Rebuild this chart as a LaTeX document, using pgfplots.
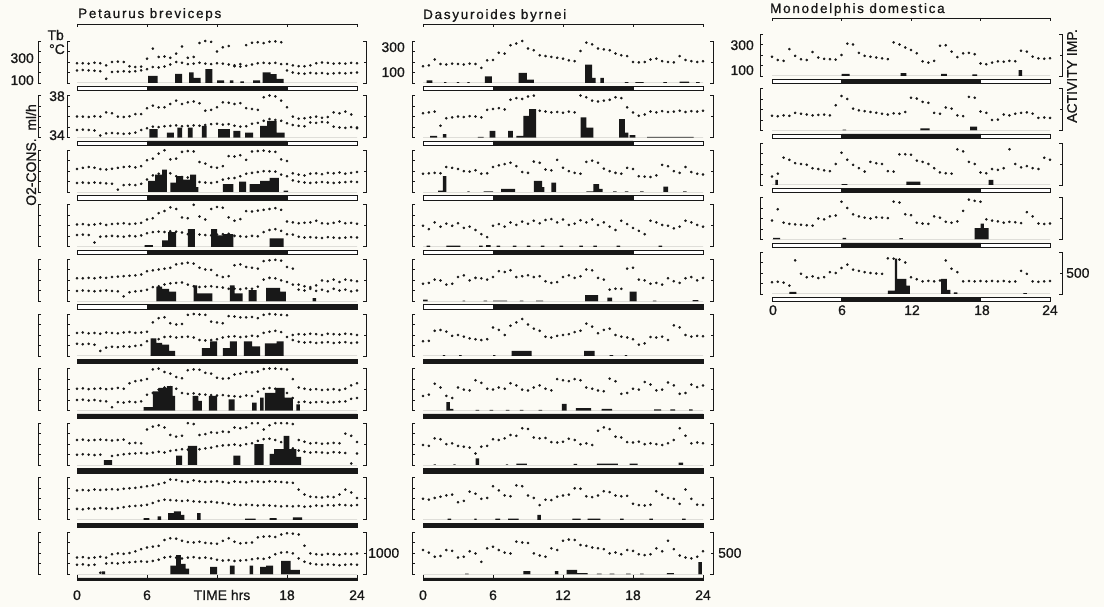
\documentclass[border=0pt]{standalone}
\usepackage{pgfplots}
\pgfplotsset{compat=1.18}
\usepackage{pgfplotstable}
\usepackage{fontspec}
\setmainfont{Liberation Sans}[FakeBold=0.8]
\newfontfamily\titlefont[LetterSpace=13,FakeBold=0.8]{Liberation Sans}
\definecolor{ink}{RGB}{24,24,24}
\definecolor{paper}{RGB}{252,251,245}
\pgfplotsset{
 pnl/.style={scale only axis, width=280bp, height=42bp, xmin=0, xmax=24, ymin=0, ymax=100, axis lines=none, clip=false, anchor=south west},
 dots/.style={only marks, mark=*, mark size=1.1bp, color=ink},
 act/.style={const plot, fill=ink, draw=none},
}
\newcommand\ld[2]{%
 \addplot[draw=ink, fill=white, line width=0.7bp] coordinates {(0,-8)(24,-8)(24,-18.5)(0,-18.5)(0,-8)};
 \addplot[draw=ink, fill=ink, line width=0.7bp] coordinates {(#1,-8)(#2,-8)(#2,-18.5)(#1,-18.5)(#1,-8)};}
\newcommand\thin{\addplot[fill=ink, draw=ink, line width=0.4bp] coordinates {(0,-8)(24,-8)(24,-13)(0,-13)(0,-8)};}
\newcommand\lbr[3]{%
 \draw[ink,line width=0.9bp] (#1+3,#2) -- (#1,#2) -- (#1,#3) -- (#1+3,#3);
 \draw[ink,line width=0.9bp] (#1,{#2+0.25*(#3-#2)}) -- ++(2.5,0) (#1,{#2+0.5*(#3-#2)}) -- ++(2.5,0) (#1,{#2+0.75*(#3-#2)}) -- ++(2.5,0);}
\newcommand\rbr[3]{%
 \draw[ink,line width=0.9bp] (#1-3,#2) -- (#1,#2) -- (#1,#3) -- (#1-3,#3);
 \draw[ink,line width=0.9bp] (#1,{0.5*(#2+#3)}) -- ++(-2.5,0);}
\begin{document}
% ---------- Petaurus breviceps (t, upper series a, lower series b; % of panel height)
\pgfplotstableread[row sep=\\]{t a b\\
0 47 30\\0.5 47 31\\1 46 30\\1.5 48 29\\2 47 28\\2.5 42 10\\3 50 26\\3.5 51 27\\4 50 28\\4.5 40 27\\5 38 28\\5.5 39 30\\
6 58 33\\6.5 82 38\\7 62 37\\7.5 63 39\\8 60 44\\8.5 70 50\\9 87 48\\9.5 60 45\\10 62 46\\10.5 95 48\\11 100 46\\11.5 98 45\\
12 75 47\\12.5 85 46\\13 88 44\\13.5 42 40\\14 45 39\\14.5 90 41\\15 96 44\\15.5 97 47\\16 95 48\\16.5 98 47\\17 99 48\\17.5 97 45\\
18 45 30\\18.5 42 25\\19 40 23\\19.5 40 22\\20 42 24\\20.5 47 23\\21 49 24\\21.5 48 22\\22 46 23\\22.5 47 24\\23 46 23\\23.5 48 24\\24 47 25\\}\cAa
\pgfplotstableread[row sep=\\]{t a b\\
0 50 18\\0.5 50 19\\1 49 18\\1.5 51 17\\2 50 5\\2.5 60 10\\3 58 11\\3.5 50 10\\4 49 9\\4.5 51 10\\5 56 12\\5.5 56 18\\
6 70 22\\6.5 76 26\\7 72 25\\7.5 72 27\\8 80 28\\8.5 88 29\\9 80 27\\9.5 84 28\\10 86 29\\10.5 82 28\\11 64 30\\11.5 66 32\\
12 72 33\\12.5 84 31\\13 83 32\\13.5 80 28\\14 82 26\\14.5 70 27\\15 68 33\\15.5 66 35\\16 96 40\\16.5 100 44\\17 98 42\\17.5 88 40\\
18 72 34\\18.5 50 30\\19 45 28\\19.5 46 27\\20 48 36\\20.5 50 35\\21 47 37\\21.5 49 36\\22 60 26\\22.5 58 24\\23 62 23\\23.5 55 25\\24 24 22\\}\cAb
\pgfplotstableread[row sep=\\]{t a b\\
0 55 22\\0.5 58 23\\1 60 22\\1.5 58 23\\2 55 22\\2.5 54 21\\3 56 20\\3.5 58 6\\4 60 17\\4.5 61 18\\5 59 17\\5.5 62 20\\
6 76 30\\6.5 80 40\\7 92 44\\7.5 100 46\\8 78 45\\8.5 80 38\\9 96 36\\9.5 98 35\\10 97 32\\10.5 72 24\\11 68 23\\11.5 60 22\\
12 58 24\\12.5 62 30\\13 86 33\\13.5 85 34\\14 88 38\\14.5 77 44\\15 97 46\\15.5 98 48\\16 99 50\\16.5 97 50\\17 96 49\\17.5 78 42\\
18 74 38\\18.5 45 28\\19 42 25\\19.5 40 23\\20 44 22\\20.5 45 23\\21 43 24\\21.5 46 23\\22 45 22\\22.5 47 23\\23 44 24\\23.5 46 25\\24 48 24\\}\cAc
\pgfplotstableread[row sep=\\]{t a b\\
0 53 28\\0.5 54 29\\1 52 28\\1.5 53 10\\2 55 24\\2.5 52 25\\3 54 26\\3.5 55 25\\4 56 24\\4.5 54 26\\5 55 25\\5.5 57 27\\
6 65 32\\6.5 68 35\\7 80 36\\7.5 85 35\\8 94 37\\8.5 90 36\\9 70 34\\9.5 68 30\\10 100 31\\10.5 72 29\\11 65 28\\11.5 90 27\\
12 95 29\\12.5 93 30\\13 70 31\\13.5 62 26\\14 66 25\\14.5 85 24\\15 84 26\\15.5 86 25\\16 88 35\\16.5 90 40\\17 92 42\\17.5 88 38\\
18 60 30\\18.5 58 29\\19 56 24\\19.5 57 22\\20 58 23\\20.5 62 22\\21 56 21\\21.5 55 23\\22 57 22\\22.5 60 21\\23 56 22\\23.5 57 23\\24 55 22\\}\cAd
\pgfplotstableread[row sep=\\]{t a b\\
0 55 25\\0.5 55 26\\1 56 25\\1.5 55 24\\2 57 25\\2.5 56 26\\3 58 25\\3.5 59 24\\4 60 12\\4.5 61 22\\5 62 24\\5.5 64 25\\
6 72 28\\6.5 74 34\\7 76 36\\7.5 78 40\\8 80 43\\8.5 88 44\\9 90 45\\9.5 92 40\\10 90 36\\10.5 80 34\\11 76 35\\11.5 75 36\\
12 62 34\\12.5 58 33\\13 60 30\\13.5 86 30\\14 88 29\\14.5 82 31\\15 80 30\\15.5 78 35\\16 96 52\\16.5 98 56\\17 99 55\\17.5 97 50\\
18 82 46\\18.5 78 40\\19 40 28\\19.5 36 26\\20 34 30\\20.5 38 25\\21 50 28\\21.5 48 24\\22 52 30\\22.5 46 26\\23 52 28\\23.5 50 24\\24 48 26\\}\cAe
\pgfplotstableread[row sep=\\]{t a b\\
0 55 29\\0.5 56 28\\1 54 29\\1.5 55 27\\2 53 12\\2.5 56 20\\3 55 22\\3.5 54 21\\4 56 23\\4.5 57 22\\5 55 24\\5.5 56 26\\
6 58 35\\6.5 80 38\\7 90 40\\7.5 92 45\\8 78 46\\8.5 75 44\\9 76 45\\9.5 98 46\\10 100 44\\10.5 99 38\\11 98 37\\11.5 82 38\\
12 80 40\\12.5 78 44\\13 95 46\\13.5 94 47\\14 92 45\\14.5 92 46\\15 93 48\\15.5 90 47\\16 98 55\\16.5 100 58\\17 99 60\\17.5 98 57\\
18 97 45\\18.5 50 38\\19 52 34\\19.5 51 32\\20 53 33\\20.5 52 31\\21 50 32\\21.5 53 33\\22 52 31\\22.5 51 32\\23 53 33\\23.5 52 31\\24 50 32\\}\cAf
\pgfplotstableread[row sep=\\]{t a b\\
0 52 25\\0.5 53 26\\1 51 24\\1.5 52 25\\2 53 23\\2.5 51 22\\3 52 8\\3.5 54 20\\4 52 19\\4.5 65 21\\5 70 20\\5.5 72 22\\
6 75 38\\6.5 98 42\\7 100 50\\7.5 92 55\\8 88 56\\8.5 80 52\\9 77 42\\9.5 96 40\\10 98 41\\10.5 97 39\\11 90 38\\11.5 88 37\\
12 78 36\\12.5 76 37\\13 77 35\\13.5 86 34\\14 88 33\\14.5 92 36\\15 91 35\\15.5 93 45\\16 99 52\\16.5 100 54\\17 100 52\\17.5 99 44\\
18 98 42\\18.5 75 30\\19 55 20\\19.5 52 21\\20 50 19\\20.5 51 20\\21 49 21\\21.5 50 19\\22 51 20\\22.5 49 21\\23 52 22\\23.5 60 28\\24 65 30\\}\cAg
\pgfplotstableread[row sep=\\]{t a b\\
0 60 25\\0.5 61 26\\1 59 25\\1.5 60 24\\2 61 25\\2.5 60 4\\3 59 22\\3.5 60 24\\4 61 26\\4.5 52 27\\5 53 28\\5.5 52 29\\
6 85 28\\6.5 92 30\\7 95 32\\7.5 90 30\\8 72 34\\8.5 68 36\\9 70 38\\9.5 100 37\\10 98 39\\10.5 72 38\\11 74 40\\11.5 78 42\\
12 77 45\\12.5 80 47\\13 79 48\\13.5 90 49\\14 88 47\\14.5 90 50\\15 100 52\\15.5 100 58\\16 85 62\\16.5 95 63\\17 100 60\\17.5 100 55\\
18 100 54\\18.5 98 40\\19 60 35\\19.5 56 32\\20 52 30\\20.5 53 31\\21 51 30\\21.5 52 29\\22 53 31\\22.5 52 30\\23 75 29\\23.5 70 4\\24 55 28\\}\cAh
\pgfplotstableread[row sep=\\]{t a b\\
0 70 26\\0.5 71 25\\1 70 27\\1.5 72 26\\2 71 28\\2.5 72 27\\3 73 26\\3.5 72 28\\4 74 30\\4.5 75 32\\5 76 33\\5.5 78 34\\
6 80 36\\6.5 82 40\\7 85 45\\7.5 88 48\\8 96 47\\8.5 95 46\\9 92 45\\9.5 90 46\\10 94 44\\10.5 92 43\\11 90 42\\11.5 91 43\\
12 92 41\\12.5 90 40\\13 88 38\\13.5 91 36\\14 90 35\\14.5 89 36\\15 92 35\\15.5 91 34\\16 90 35\\16.5 92 34\\17 91 33\\17.5 90 32\\
18 89 33\\18.5 88 32\\19 72 33\\19.5 60 31\\20 55 32\\20.5 54 34\\21 53 33\\21.5 55 35\\22 54 34\\22.5 60 36\\23 72 35\\23.5 65 34\\24 52 35\\}\cAi
\pgfplotstableread[row sep=\\]{t a b\\
0 40 23\\0.5 41 24\\1 39 22\\1.5 40 23\\2 42 4\\2.5 40 26\\3 48 27\\3.5 50 26\\4 49 28\\4.5 51 29\\5 55 30\\5.5 60 31\\
6 64 30\\6.5 66 32\\7 68 35\\7.5 82 40\\8 86 42\\8.5 85 40\\9 80 38\\9.5 77 40\\10 76 41\\10.5 78 39\\11 75 40\\11.5 74 38\\
12 73 35\\12.5 80 33\\13 86 34\\13.5 78 32\\14 74 33\\14.5 75 34\\15 76 36\\15.5 88 38\\16 90 37\\16.5 91 40\\17 89 48\\17.5 95 52\\
18 98 53\\18.5 97 50\\19 95 38\\19.5 68 30\\20 50 26\\20.5 48 24\\21 47 23\\21.5 49 24\\22 48 23\\22.5 47 22\\23 49 23\\23.5 48 24\\24 50 23\\}\cAj
% ---------- Dasyuroides byrnei
\pgfplotstableread[row sep=\\]{t a\\
0 40\\0.5 42\\1 56\\1.5 45\\2 44\\2.5 46\\3 45\\3.5 44\\4 46\\4.5 45\\5 36\\5.5 54\\6 55\\6.5 72\\7 70\\7.5 90\\8 94\\8.5 100\\9 82\\9.5 78\\10 66\\10.5 64\\11 62\\11.5 60\\
12 58\\12.5 54\\13 52\\13.5 76\\14 96\\14.5 92\\15 82\\15.5 80\\16 78\\16.5 70\\17 66\\17.5 64\\18 50\\18.5 49\\19 50\\19.5 56\\20 58\\20.5 52\\21 50\\21.5 49\\22 64\\22.5 55\\23 52\\23.5 50\\24 52\\}\cBa
\pgfplotstableread[row sep=\\]{t a\\
0 58\\0.5 60\\1 62\\1.5 28\\2 46\\2.5 48\\3 50\\3.5 49\\4 51\\4.5 50\\5 48\\5.5 66\\6 68\\6.5 70\\7 67\\7.5 90\\8 94\\8.5 92\\9 98\\9.5 100\\10 64\\10.5 62\\11 60\\11.5 61\\
12 59\\12.5 62\\13 60\\13.5 100\\14 96\\14.5 88\\15 86\\15.5 88\\16 90\\16.5 96\\17 94\\17.5 72\\18 60\\18.5 52\\19 55\\19.5 62\\20 60\\20.5 63\\21 61\\21.5 62\\22 64\\22.5 61\\23 63\\23.5 62\\24 64\\}\cBb
\pgfplotstableread[row sep=\\]{t a\\
0 44\\0.5 45\\1 46\\1.5 45\\2 60\\2.5 58\\3 55\\3.5 50\\4 49\\4.5 52\\5 44\\5.5 45\\6 60\\6.5 64\\7 67\\7.5 70\\8 62\\8.5 48\\9 46\\9.5 73\\10 70\\10.5 54\\11 52\\11.5 77\\
12 58\\12.5 50\\13 46\\13.5 44\\14 72\\14.5 75\\15 70\\15.5 56\\16 50\\16.5 46\\17 44\\17.5 58\\18 55\\18.5 38\\19 37\\19.5 36\\20 40\\20.5 65\\21 62\\21.5 50\\22 46\\22.5 60\\23 48\\23.5 44\\24 42\\}\cBc
\pgfplotstableread[row sep=\\]{t a\\
0 50\\0.5 42\\1 58\\1.5 48\\2 55\\2.5 50\\3 56\\3.5 45\\4 48\\4.5 40\\5 30\\5.5 23\\6 50\\6.5 54\\7 48\\7.5 58\\8 52\\8.5 60\\9 55\\9.5 62\\10 56\\10.5 64\\11 66\\11.5 58\\
12 65\\12.5 52\\13 55\\13.5 63\\14 58\\14.5 65\\15 52\\15.5 58\\16 48\\16.5 40\\17 62\\17.5 54\\18 45\\18.5 38\\19 30\\19.5 62\\20 58\\20.5 52\\21 50\\21.5 44\\22 48\\22.5 62\\23 58\\23.5 52\\24 48\\}\cBd
\pgfplotstableread[row sep=\\]{t a\\
0 42\\0.5 44\\1 52\\1.5 50\\2 40\\2.5 42\\3 58\\3.5 62\\4 50\\4.5 56\\5 55\\5.5 52\\6 58\\6.5 72\\7 70\\7.5 74\\8 58\\8.5 60\\9 62\\9.5 58\\10 60\\10.5 48\\11 44\\11.5 46\\
12 58\\12.5 62\\13 56\\13.5 60\\14 76\\14.5 74\\15 56\\15.5 52\\16 28\\16.5 30\\17 30\\17.5 78\\18 80\\18.5 52\\19 50\\19.5 42\\20 44\\20.5 40\\21 55\\21.5 48\\22 44\\22.5 55\\23 58\\23.5 50\\24 56\\}\cBe
\pgfplotstableread[row sep=\\]{t a\\
0 35\\0.5 36\\1 60\\1.5 62\\2 58\\2.5 48\\3 50\\3.5 46\\4 42\\4.5 40\\5 38\\5.5 40\\6 68\\6.5 62\\7 50\\7.5 72\\8 80\\8.5 88\\9 75\\9.5 65\\10 60\\10.5 46\\11 44\\11.5 48\\
12 50\\12.5 52\\13 57\\13.5 60\\14 77\\14.5 70\\15 54\\15.5 62\\16 65\\16.5 50\\17 46\\17.5 44\\18 40\\18.5 27\\19 30\\19.5 45\\20 44\\20.5 46\\21 38\\21.5 73\\22 68\\22.5 50\\23 46\\23.5 48\\24 47\\}\cBf
\pgfplotstableread[row sep=\\]{t a\\
0 35\\0.5 38\\1 64\\1.5 55\\2 35\\2.5 30\\3 55\\3.5 50\\4 48\\4.5 72\\5 66\\5.5 52\\6 50\\6.5 55\\7 52\\7.5 65\\8 60\\8.5 50\\9 48\\9.5 55\\10 60\\10.5 52\\11 48\\11.5 75\\
12 72\\12.5 70\\13 75\\13.5 72\\14 55\\14.5 52\\15 48\\15.5 46\\16 76\\16.5 70\\17 40\\17.5 42\\18 52\\18.5 50\\19 68\\19.5 62\\20 48\\20.5 50\\21 67\\21.5 60\\22 40\\22.5 42\\23 62\\23.5 56\\24 60\\}\cBg
\pgfplotstableread[row sep=\\]{t a\\
0 48\\0.5 46\\1 64\\1.5 62\\2 50\\2.5 52\\3 46\\3.5 44\\4 42\\4.5 28\\5 44\\5.5 46\\6 62\\6.5 60\\7 64\\7.5 72\\8 70\\8.5 88\\9 86\\9.5 66\\10 64\\10.5 65\\11 55\\11.5 54\\
12 56\\12.5 63\\13 60\\13.5 50\\14 52\\14.5 48\\15 82\\15.5 90\\16 86\\16.5 68\\17 66\\17.5 55\\18 54\\18.5 56\\19 50\\19.5 52\\20 50\\20.5 48\\21 52\\21.5 60\\22 88\\22.5 70\\23 52\\23.5 54\\24 52\\}\cBh
\pgfplotstableread[row sep=\\]{t a\\
0 50\\0.5 48\\1 52\\1.5 55\\2 58\\2.5 60\\3 42\\3.5 45\\4 67\\4.5 62\\5 50\\5.5 52\\6 80\\6.5 70\\7 58\\7.5 56\\8 82\\8.5 80\\9 58\\9.5 52\\10 35\\10.5 48\\11 47\\11.5 55\\
12 58\\12.5 60\\13 75\\13.5 74\\14 56\\14.5 54\\15 58\\15.5 68\\16 66\\16.5 58\\17 56\\17.5 57\\18 38\\18.5 35\\19 34\\19.5 36\\20 68\\20.5 60\\21 52\\21.5 50\\22 38\\22.5 72\\23 50\\23.5 36\\24 35\\}\cBi
\pgfplotstableread[row sep=\\]{t a\\
0 58\\0.5 52\\1 42\\1.5 44\\2 58\\2.5 56\\3 40\\3.5 42\\4 55\\4.5 50\\5 30\\5.5 62\\6 66\\6.5 58\\7 52\\7.5 50\\8 78\\8.5 76\\9 75\\9.5 50\\10 45\\10.5 42\\11 62\\11.5 58\\
12 80\\12.5 83\\13 82\\13.5 70\\14 68\\14.5 64\\15 62\\15.5 60\\16 50\\16.5 52\\17 48\\17.5 58\\18 56\\18.5 48\\19 46\\19.5 48\\20 62\\20.5 55\\21 80\\21.5 60\\22 45\\22.5 40\\23 38\\23.5 42\\24 55\\}\cBj
% ---------- Monodelphis domestica
\pgfplotstableread[row sep=\\]{t a\\
0 46\\0.5 38\\1 36\\1.5 64\\2 48\\2.5 40\\3 38\\3.5 57\\4 44\\4.5 41\\5 40\\5.5 39\\6 50\\6.5 77\\7 75\\7.5 55\\8 48\\8.5 46\\9 44\\9.5 42\\10 40\\10.5 80\\11 75\\11.5 68\\
12 62\\12.5 54\\13 35\\13.5 32\\14 36\\14.5 72\\15 73\\15.5 58\\16 45\\16.5 54\\17 55\\17.5 52\\18 30\\18.5 28\\19 32\\19.5 35\\20 34\\20.5 36\\21 35\\21.5 60\\22 58\\22.5 46\\23 42\\23.5 41\\24 42\\}\cCa
\pgfplotstableread[row sep=\\]{t a\\
0 35\\0.5 34\\1 36\\1.5 35\\2 42\\2.5 40\\3 38\\3.5 36\\4 37\\4.5 38\\5 36\\5.5 60\\6 82\\6.5 75\\7 52\\7.5 48\\8 46\\8.5 44\\9 42\\9.5 40\\10 38\\10.5 41\\11 40\\11.5 44\\
12 78\\12.5 76\\13 68\\13.5 66\\14 42\\14.5 40\\15 55\\15.5 52\\16 36\\16.5 34\\17 80\\17.5 78\\18 45\\18.5 42\\19 25\\19.5 26\\20 38\\20.5 36\\21 40\\21.5 42\\22 43\\22.5 40\\23 30\\23.5 31\\24 30\\}\cCb
\pgfplotstableread[row sep=\\]{t a\\
0 20\\0.5 27\\1 65\\1.5 60\\2 52\\2.5 50\\3 48\\3.5 40\\4 38\\4.5 35\\5 33\\5.5 50\\6 77\\6.5 60\\7 48\\7.5 40\\8 32\\8.5 55\\9 52\\9.5 50\\10 33\\10.5 32\\11 73\\11.5 73\\
12 72\\12.5 58\\13 55\\13.5 50\\14 40\\14.5 30\\15 28\\15.5 27\\16 85\\16.5 80\\17 55\\17.5 50\\18 30\\18.5 28\\19 38\\19.5 36\\20 40\\20.5 85\\21 50\\21.5 42\\22 45\\22.5 40\\23 38\\23.5 65\\24 60\\}\cCc
\pgfplotstableread[row sep=\\]{t a\\
0 45\\0.5 72\\1 40\\1.5 37\\2 36\\2.5 35\\3 34\\3.5 33\\4 50\\4.5 48\\5 55\\5.5 57\\6 90\\6.5 75\\7 60\\7.5 55\\8 52\\8.5 50\\9 53\\9.5 52\\10 51\\10.5 90\\11 88\\11.5 60\\
12 58\\12.5 40\\13 38\\13.5 37\\14 55\\14.5 52\\15 42\\15.5 40\\16 43\\16.5 68\\17 95\\17.5 92\\18 90\\18.5 48\\19 45\\19.5 43\\20 40\\20.5 42\\21 41\\21.5 39\\22 65\\22.5 55\\23 38\\23.5 37\\24 38\\}\cCd
\pgfplotstableread[row sep=\\]{t a\\
0 28\\0.5 29\\1 27\\1.5 20\\2 80\\2.5 48\\3 40\\3.5 42\\4 38\\4.5 40\\5 52\\5.5 50\\6 62\\6.5 70\\7 58\\7.5 55\\8 52\\8.5 50\\9 49\\9.5 48\\10 85\\10.5 84\\11 82\\11.5 75\\
12 40\\12.5 35\\13 30\\13.5 31\\14 30\\14.5 32\\15 80\\15.5 60\\16 52\\16.5 30\\17 31\\17.5 30\\18 31\\18.5 30\\19 31\\19.5 30\\20 31\\20.5 29\\21 30\\21.5 55\\22 48\\22.5 30\\23 29\\23.5 30\\24 31\\}\cCe
\begin{tikzpicture}
\useasboundingbox (0,0) rectangle (1104bp,607bp);
\fill[paper] (0,0) rectangle (1104bp,607bp);
% ===== Column 1
\begin{axis}[pnl, at={(77bp,524bp)}]
\addplot[dots] table[x=t,y=a]{\cAa}; \addplot[dots] table[x=t,y=b]{\cAa};
\addplot[act] coordinates {(0,0)(6.1,17)(6.9,0)(8.4,22)(9,0)(9.6,25)(10,12)(10.6,0)(11,33)(11.6,0)(12,6)(12.6,0)(13.1,6)(13.4,0)(14,4)(14.3,0)(15.1,6)(15.7,0)(15.9,25)(16.6,21)(17.1,10)(17.7,0)(24,0)} \closedcycle;
\ld{6}{18}
\end{axis}
\begin{axis}[pnl, at={(77bp,469.4bp)}]
\addplot[dots] table[x=t,y=a]{\cAb}; \addplot[dots] table[x=t,y=b]{\cAb};
\addplot[act] coordinates {(0,0)(6.2,20)(6.9,0)(7.7,12)(8.3,0)(8.6,24)(9,0)(9.5,24)(9.9,0)(10.7,28)(11.1,0)(12.1,20)(13.1,0)(13.4,16)(14,0)(14.4,12)(15.1,0)(15.7,28)(16.3,40)(17.1,12)(17.8,0)(24,0)} \closedcycle;
\ld{6}{18}
\end{axis}
\begin{axis}[pnl, at={(77bp,414.8bp)}]
\addplot[dots] table[x=t,y=a]{\cAc}; \addplot[dots] table[x=t,y=b]{\cAc};
\addplot[act] coordinates {(0,0)(6.1,27)(6.7,42)(7.3,54)(7.7,0)(8,23)(8.5,38)(9.1,30)(9.7,42)(10.2,12)(10.4,0)(12.5,19)(13.4,0)(13.9,25)(14.5,0)(14.8,19)(15.7,27)(16.5,34)(17.3,0)(17.7,4)(18.1,0)(24,0)} \closedcycle;
\ld{6}{18}
\end{axis}
\begin{axis}[pnl, at={(77bp,360.2bp)}]
\addplot[dots] table[x=t,y=a]{\cAd}; \addplot[dots] table[x=t,y=b]{\cAd};
\addplot[act] coordinates {(0,0)(5.8,4)(6.5,0)(7.3,15)(7.8,35)(8.5,0)(9.5,42)(10.1,0)(11.5,42)(12,27)(12.5,30)(13.4,0)(16.5,20)(17.7,0)(24,0)} \closedcycle;
\ld{6}{18}
\end{axis}
\begin{axis}[pnl, at={(77bp,305.6bp)}]
\addplot[dots] table[x=t,y=a]{\cAe}; \addplot[dots] table[x=t,y=b]{\cAe};
\addplot[act] coordinates {(0,0)(6.8,35)(7.3,30)(7.9,23)(8.5,0)(10,38)(10.3,19)(11.6,0)(13.1,38)(13.5,19)(14.2,0)(14.7,27)(15.4,0)(16.2,32)(17.4,23)(17.9,0)(20.2,8)(20.5,0)(24,0)} \closedcycle;
\ld{6}{24}
\end{axis}
\begin{axis}[pnl, at={(77bp,251bp)}]
\addplot[dots] table[x=t,y=a]{\cAf}; \addplot[dots] table[x=t,y=b]{\cAf};
\addplot[act] coordinates {(0,0)(6.3,42)(6.8,31)(7.3,27)(7.9,12)(8.4,0)(10.7,19)(11.4,35)(12,0)(12.5,19)(13.1,35)(13.7,0)(14.3,35)(15,23)(15.7,0)(16.1,30)(17.1,35)(17.7,0)(24,0)} \closedcycle;
\ld{0}{24}
\end{axis}
\begin{axis}[pnl, at={(77bp,196.4bp)}]
\addplot[dots] table[x=t,y=a]{\cAg}; \addplot[dots] table[x=t,y=b]{\cAg};
\addplot[act] coordinates {(0,0)(5.7,8)(6.5,46)(7,54)(7.7,58)(8.2,35)(8.4,0)(9.9,35)(10.4,23)(10.7,0)(11.3,35)(12,0)(13,27)(13.5,0)(15,19)(15.4,0)(15.7,31)(16,0)(16.1,42)(17,54)(17.8,31)(18.5,0)(18.8,15)(19.1,0)(24,0)} \closedcycle;
\ld{0}{24}
\end{axis}
\begin{axis}[pnl, at={(77bp,141.8bp)}]
\addplot[dots] table[x=t,y=a]{\cAh}; \addplot[dots] table[x=t,y=b]{\cAh};
\addplot[act] coordinates {(0,0)(2.3,12)(3,0)(8.5,23)(9,0)(9.5,46)(10.3,0)(13.4,23)(14,0)(15.2,50)(16,0)(16.5,27)(16.9,38)(17.7,70)(18.2,38)(18.8,20)(19.2,0)(24,0)} \closedcycle;
\ld{0}{24}
\end{axis}
\begin{axis}[pnl, at={(77bp,87.2bp)}]
\addplot[dots] table[x=t,y=a]{\cAi}; \addplot[dots] table[x=t,y=b]{\cAi};
\addplot[act] coordinates {(0,0)(5.7,4)(6.2,0)(6.9,8)(7.2,0)(7.8,16)(8.3,20)(8.9,12)(9.2,0)(10.3,16)(10.6,0)(14.4,3)(15.3,0)(16.5,4)(17.1,0)(18.5,6)(19.3,0)(24,0)} \closedcycle;
\ld{0}{24}
\end{axis}
\begin{axis}[pnl, at={(77bp,32.6bp)}]
\addplot[dots] table[x=t,y=a]{\cAj}; \addplot[dots] table[x=t,y=b]{\cAj};
\addplot[act] coordinates {(0,0)(2.1,7)(2.4,0)(8,21)(8.5,46)(8.9,25)(9.3,14)(9.6,0)(11.4,18)(12,0)(13.1,21)(13.5,0)(14.8,21)(15.1,0)(15.7,18)(16.2,21)(16.8,0)(17.5,32)(18.3,11)(19.1,0)(24,0)} \closedcycle;
\thin
\end{axis}
% ===== Column 2
\begin{axis}[pnl, at={(423bp,524bp)}]
\addplot[dots] table[x=t,y=a]{\cBa};
\addplot[act] coordinates {(0,0)(0.3,6)(0.8,0)(1.8,2)(2,0)(2.9,2)(3.1,0)(3.8,2)(4,0)(5.3,16)(5.9,0)(8.2,24)(8.9,8)(9.5,0)(13.9,44)(14.5,12)(14.8,0)(15.2,12)(15.5,0)(17.3,2)(17.6,0)(18.2,2)(18.9,0)(20.6,2)(20.9,0)(22,3)(22.8,0)(23.4,2)(23.7,0)(24,0)} \closedcycle;
\ld{6}{18}
\end{axis}
\begin{axis}[pnl, at={(423bp,469.4bp)}]
\addplot[dots] table[x=t,y=a]{\cBb};
\addplot[act] coordinates {(0,0)(0.6,4)(1.2,0)(1.7,8)(2,0)(4.7,2)(5.2,0)(5.7,16)(6.2,0)(7.3,16)(7.7,0)(8,4)(8.6,52)(9.1,68)(9.7,0)(13.5,48)(14,24)(14.6,0)(16.8,44)(17.3,12)(17.6,0)(17.7,6)(18.2,0)(19.2,2)(23.2,0)(24,0)} \closedcycle;
\ld{6}{18}
\end{axis}
\begin{axis}[pnl, at={(423bp,414.8bp)}]
\addplot[dots] table[x=t,y=a]{\cBc};
\addplot[act] coordinates {(0,0)(1.3,4)(1.7,38)(2,0)(3.8,2)(4,0)(5.2,2)(6,0)(6.7,8)(7.9,0)(9.5,27)(10.2,12)(10.4,0)(11,23)(11.4,0)(14,2)(14.6,19)(15.1,8)(15.4,0)(16.3,2)(16.6,0)(17.3,2)(17.6,0)(18.6,2)(18.9,0)(20.6,13)(21,0)(22.3,2)(22.6,0)(24,0)} \closedcycle;
\ld{6}{18}
\end{axis}
\begin{axis}[pnl, at={(423bp,360.2bp)}]
\addplot[dots] table[x=t,y=a]{\cBd};
\addplot[act] coordinates {(0,0)(0.3,3)(0.6,0)(2,3)(3.2,0)(4.8,3)(5.1,0)(5.4,4)(5.8,0)(6.3,3)(6.6,0)(7.7,3)(8,0)(8.9,3)(9.2,0)(10.1,3)(10.4,0)(11.7,3)(12,0)(13.4,3)(13.7,0)(14.6,3)(14.9,0)(16.6,3)(16.9,0)(20.2,3)(20.5,0)(24,0)} \closedcycle;
\ld{6}{18}
\end{axis}
\begin{axis}[pnl, at={(423bp,305.6bp)}]
\addplot[dots] table[x=t,y=a]{\cBe};
\addplot[act] coordinates {(0,4)(0.4,0)(3.4,2)(3.6,0)(5.2,2)(5.5,0)(6,2)(7.2,0)(8.3,2)(8.6,0)(9.7,2)(10.3,0)(13.9,15)(15,0)(15.8,9)(16.2,0)(17.7,23)(18.3,0)(19.7,2)(20,0)(23.1,3)(23.6,0)(24,0)} \closedcycle;
\ld{6}{24}
\end{axis}
\begin{axis}[pnl, at={(423bp,251bp)}]
\addplot[dots] table[x=t,y=a]{\cBf};
\addplot[act] coordinates {(0,0)(1.7,2)(1.9,0)(3.1,2)(3.3,0)(6,2)(6.2,0)(7.6,12)(9.3,0)(13.8,12)(14.7,0)(16,2)(16.3,0)(17.3,2)(17.5,0)(24,0)} \closedcycle;
\ld{0}{24}
\end{axis}
\begin{axis}[pnl, at={(423bp,196.4bp)}]
\addplot[dots] table[x=t,y=a]{\cBg};
\addplot[act] coordinates {(0,0)(2,20)(2.3,4)(2.6,0)(4.5,2)(4.8,0)(5.7,2)(6,0)(7.1,2)(7.4,0)(8.3,2)(8.6,0)(9.9,2)(10.2,0)(11.9,16)(12.3,0)(13.1,6)(14.4,0)(15.3,4)(16.2,0)(19.8,3)(20.4,0)(21.2,3)(21.6,0)(22.8,3)(23.1,0)(24,0)} \closedcycle;
\ld{0}{24}
\end{axis}
\begin{axis}[pnl, at={(423bp,141.8bp)}]
\addplot[dots] table[x=t,y=a]{\cBh};
\addplot[act] coordinates {(0,0)(0.9,2)(1.1,0)(2.6,2)(2.8,0)(4.5,16)(4.8,0)(7.1,2)(7.3,0)(8,4)(8.9,0)(12.9,3)(13.2,0)(14.9,4)(16.7,0)(17.7,4)(18.4,0)(21.9,6)(22.3,0)(24,0)} \closedcycle;
\ld{0}{24}
\end{axis}
\begin{axis}[pnl, at={(423bp,87.2bp)}]
\addplot[dots] table[x=t,y=a]{\cBi};
\addplot[act] coordinates {(0,0)(2.1,3)(2.4,0)(4.4,3)(4.6,0)(6.2,3)(6.6,0)(7.3,3)(8.2,0)(9.8,12)(10.1,0)(12.8,3)(13.5,0)(14.1,3)(15.2,0)(16.9,3)(17.2,0)(19.4,3)(19.7,0)(22.2,3)(22.5,0)(24,0)} \closedcycle;
\ld{0}{24}
\end{axis}
\begin{axis}[pnl, at={(423bp,32.6bp)}]
\addplot[dots] table[x=t,y=a]{\cBj};
\addplot[act] coordinates {(0,0)(3.6,2)(3.9,0)(8.6,8)(9.2,0)(11.3,8)(11.6,0)(12.3,11)(13.2,3)(14.1,0)(14.9,2)(15.3,0)(16,2)(16.4,0)(17.4,2)(17.8,0)(18.6,2)(18.9,0)(20.9,3)(21.5,0)(23.6,29)(23.9,0)(24,0)} \closedcycle;
\thin
\end{axis}
% ===== Column 3
\begin{axis}[pnl, width=278bp, at={(772bp,531bp)}]
\addplot[dots] table[x=t,y=a]{\cCa};
\addplot[act] coordinates {(0,0)(6,5)(6.7,0)(11.1,7)(11.6,0)(14.6,5)(15.1,0)(17.3,4)(17.7,0)(21.3,14)(21.6,0)(24,0)} \closedcycle;
\ld{6}{18}
\end{axis}
\begin{axis}[pnl, width=278bp, at={(772bp,476.5bp)}]
\addplot[dots] table[x=t,y=a]{\cCb};
\addplot[act] coordinates {(0,0)(6.1,2)(6.4,0)(12.8,5)(13.6,0)(17.1,9)(17.7,0)(24,0)} \closedcycle;
\ld{6}{18}
\end{axis}
\begin{axis}[pnl, width=278bp, at={(772bp,422bp)}]
\addplot[dots] table[x=t,y=a]{\cCc};
\addplot[act] coordinates {(0,0)(0.3,12)(0.5,0)(6,2)(6.5,0)(11.6,8)(12.8,0)(18.7,12)(19.1,0)(24,0)} \closedcycle;
\ld{6}{18}
\end{axis}
\begin{axis}[pnl, width=278bp, at={(772bp,367.5bp)}]
\addplot[dots] table[x=t,y=a]{\cCd};
\addplot[act] coordinates {(0,0)(0.1,4)(0.7,0)(6.1,4)(6.4,0)(11,3)(11.3,0)(17.5,27)(18,38)(18.3,27)(18.7,0)(24,0)} \closedcycle;
\ld{6}{18}
\end{axis}
\begin{axis}[pnl, width=278bp, at={(772bp,313bp)}]
\addplot[dots] table[x=t,y=a]{\cCe};
\addplot[act] coordinates {(0,0)(1.5,5)(2.1,0)(10,8)(10.6,84)(10.8,36)(11.6,20)(11.9,0)(14.6,36)(15.1,10)(15.4,0)(15.7,4)(16,0)(21.7,2)(22,0)(24,0)} \closedcycle;
\ld{6}{18}
\end{axis}
% ===== decorations (pixel coordinates, y downward)
\begin{scope}[x=1bp, y=-1bp, shift={(0,607bp)}]
\foreach \i in {0,...,9}{
  \pgfmathsetmacro\T{41+54.6*\i}
  \pgfmathsetmacro\B{\T+42}
  \lbr{38}{\T}{\B}
  \lbr{67}{\T}{\B}
  \rbr{366}{\T}{\B}
  \lbr{412}{\T}{\B}
  \rbr{713}{\T}{\B}
}
\foreach \i in {0,...,4}{
  \pgfmathsetmacro\T{34+54.5*\i}
  \pgfmathsetmacro\B{\T+42}
  \lbr{760}{\T}{\B}
  \rbr{1062}{\T}{\B}
}
% title rules
\draw[ink,line width=0.9bp] (77,24) -- (357,24);
\draw[ink,line width=0.9bp] (423,24) -- (703,24);
\draw[ink,line width=0.9bp] (772,18) -- (1050,18);
\foreach \k in {0,...,4}{
  \draw[ink,line width=0.9bp] ({77+70*\k},24) -- ++(0,3);
  \draw[ink,line width=0.9bp] ({423+70*\k},24) -- ++(0,3);
  \draw[ink,line width=0.9bp] ({772+69.5*\k},18) -- ++(0,3);
  \draw[ink,line width=0.9bp] ({77+70*\k},578) -- ++(0,-3);
  \draw[ink,line width=0.9bp] ({423+70*\k},578) -- ++(0,-3);
}
% titles
\node[anchor=base west, inner sep=0, text=ink, font={\titlefont\fontsize{13.5}{16}\selectfont}] at (78,18) {Petaurus breviceps};
\node[anchor=base west, inner sep=0, text=ink, font={\titlefont\fontsize{13.5}{16}\selectfont}] at (423,19) {Dasyuroides byrnei};
\node[anchor=base west, inner sep=0, text=ink, font={\titlefont\fontsize{13.5}{16}\selectfont}] at (770,13) {Monodelphis domestica};
% left labels
\begin{scope}[every node/.style={inner sep=0, text=ink, font=\fontsize{14}{16}\selectfont}]
\node[anchor=base east] at (34,63) {300};
\node[anchor=base east] at (34,85) {100};
\node[anchor=base east] at (64,40) {Tb};
\node[anchor=base east] at (65,54) {°C};
\node[anchor=base east] at (65,101) {38};
\node[anchor=base east] at (65,140) {34};
\node[rotate=90, anchor=center] at (31,155) {O2-CONS.\ \ ml/h};
\node[anchor=base east] at (405,52) {300};
\node[anchor=base east] at (405,77) {100};
\node[anchor=base east] at (754,50) {300};
\node[anchor=base east] at (754,75) {100};
\node[anchor=west] at (368,553) {1000};
\node[anchor=west] at (718,553) {500};
\node[anchor=west] at (1066,273) {500};
\node[rotate=90, anchor=center] at (1072,76) {ACTIVITY IMP.};
% bottom axis labels
\node[anchor=base] at (77,600) {0};
\node[anchor=base] at (147,600) {6};
\node[anchor=base] at (222,600) {TIME hrs};
\node[anchor=base] at (287,600) {18};
\node[anchor=base] at (357,600) {24};
\node[anchor=base] at (423,600) {0};
\node[anchor=base] at (493,600) {6};
\node[anchor=base] at (563,600) {12};
\node[anchor=base] at (633,600) {18};
\node[anchor=base] at (703,600) {24};
\node[anchor=base] at (773,315) {0};
\node[anchor=base] at (842,315) {6};
\node[anchor=base] at (912,315) {12};
\node[anchor=base] at (982,315) {18};
\node[anchor=base] at (1050,315) {24};
\end{scope}
\end{scope}
\end{tikzpicture}
\end{document}
